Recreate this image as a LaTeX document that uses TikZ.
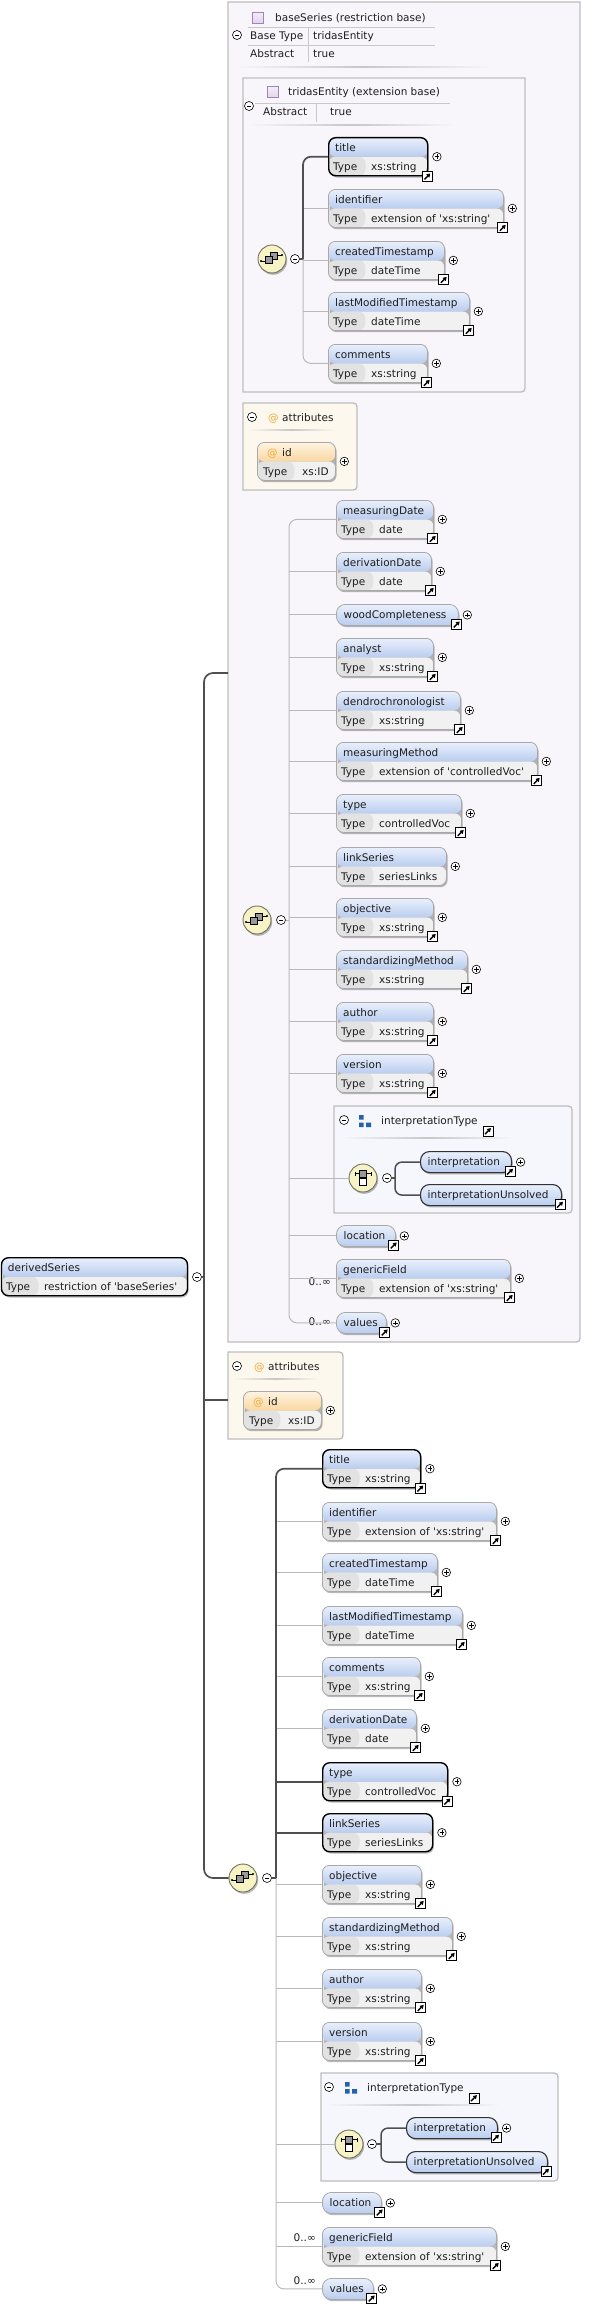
\documentclass[tikz,border=0pt]{standalone}
\usepackage{fontspec}
\setmainfont{DejaVu Sans}
\usetikzlibrary{shadows,arrows.meta}
\definecolor{hdtop}{HTML}{E9F0FC}
\definecolor{hdbot}{HTML}{BACDEF}
\definecolor{rowg}{HTML}{F1F1F1}
\definecolor{cellg}{HTML}{E2E2E2}
\definecolor{optb}{HTML}{A9A9A9}
\definecolor{idtop}{HTML}{FEF4E2}
\definecolor{idbot}{HTML}{FAD7A0}
\definecolor{lav}{HTML}{F9F6FB}
\definecolor{cream}{HTML}{FDF8EE}
\definecolor{pblue}{HTML}{F5F7FC}
\definecolor{contb}{HTML}{BEBEBE}
\definecolor{thinl}{HTML}{B9B9B9}
\definecolor{thickl}{HTML}{4F4F4F}
\definecolor{txt}{HTML}{1E1E1E}
\definecolor{atc}{HTML}{F2A93B}
\definecolor{icf}{HTML}{F8F3C4}
\definecolor{icb}{HTML}{707060}
\definecolor{bsq}{HTML}{2463A8}
\definecolor{purf}{HTML}{E2D4EE}
\definecolor{purb}{HTML}{A184B8}
\definecolor{hl}{HTML}{C8C8C8}
\newcommand\q{\textquotesingle}
\newcommand\hdrpp[2]{%
 \fill[rowg] (path picture bounding box.west) rectangle (path picture bounding box.south east);
 \fill[cellg] (path picture bounding box.west) rectangle ([xshift=37pt]path picture bounding box.south west);
 \shade[top color=#1, bottom color=#2] (path picture bounding box.north west) rectangle (path picture bounding box.east);}
\tikzset{
 ef/.style={font=\fontsize{10.5}{12}\selectfont, text=txt, inner sep=0pt},
 lbl/.style={ef, anchor=base west},
 shd/.style={drop shadow={shadow xshift=1.2pt, shadow yshift=-1.8pt, opacity=.28, fill=black}},
 elbox/.style={rectangle, rounded corners=7pt, inner sep=0pt, minimum height=38pt, draw=optb, line width=.8pt, shd, path picture={\hdrpp{hdtop}{hdbot}}},
 idbox/.style={elbox, path picture={\hdrpp{idtop}{idbot}}},
 req/.style={draw=black, line width=1.4pt},
 reqp/.style={draw=black!80, line width=1.1pt},
 pill/.style={rectangle, rounded corners=9pt, inner sep=0pt, minimum height=21pt, draw=optb, line width=.8pt, top color=hdtop, bottom color=hdbot, shd},
 plusc/.style={circle, draw=black, fill=white, line width=.6pt, minimum size=8.5pt, inner sep=0pt,
   path picture={\draw[line width=.6pt] ([xshift=-2.3pt]path picture bounding box.center) -- ([xshift=2.3pt]path picture bounding box.center) ([yshift=-2.3pt]path picture bounding box.center) -- ([yshift=2.3pt]path picture bounding box.center);}},
 minc/.style={circle, draw=black, fill=white, line width=.6pt, minimum size=9pt, inner sep=0pt,
   path picture={\draw[line width=.6pt] ([xshift=-2.4pt]path picture bounding box.center) -- ([xshift=2.4pt]path picture bounding box.center);}},
 arrbox/.style={rectangle, draw=black, fill=white, line width=.8pt, minimum size=10pt, inner sep=0pt,
   path picture={\draw[line width=1.4pt, -{Triangle[length=3.6pt,width=4.2pt]}] ([shift={(-3pt,-3pt)}]path picture bounding box.center) -- ([shift={(2.9pt,2.9pt)}]path picture bounding box.center);}},
 seqic/.style={circle, minimum size=28pt, inner sep=0pt, draw=icb, line width=.9pt, fill=icf, shd},
 basei/.style={rectangle, minimum size=11pt, inner sep=0pt, draw=purb, line width=.7pt, top color=purf!40, bottom color=purf},
 bigc/.style={fill=lav, draw=contb, line width=1.3pt},
 attrc/.style={fill=cream, draw=contb, line width=1.3pt},
 interc/.style={fill=pblue, draw=contb, line width=1.3pt},
 thinc/.style={draw=thinl, line width=1pt},
 thickc/.style={draw=thickl, line width=1.7pt},
 hline/.style={draw=hl, line width=.8pt},
}
\newcommand\El[8]{%
  \node[elbox,#7,minimum width=#4pt,anchor=north west] (#1) at (#2,#3) {};
  \node[lbl] (#1-n) at ([xshift=7pt,yshift=-14pt]#1.north west) {#5};
  \node[lbl] (#1-k) at ([xshift=5pt,yshift=-33pt]#1.north west) {Type};
  \node[lbl] (#1-v) at ([xshift=43pt,yshift=-33pt]#1.north west) {#6};
  \node[plusc] (#1-p) at ([xshift=8.5pt]#1.east) {};
  \ifnum#8=1\relax \node[arrbox] (#1-a) at ([xshift=-1pt]#1.south east) {};\fi}
\newcommand\Pl[7]{%
  \node[pill,#6,minimum width=#4pt,anchor=north west] (#1) at (#2,#3) {};
  \node[lbl] (#1-n) at ([xshift=7.5pt,yshift=-14.5pt]#1.north west) {#5};
  \node[arrbox] (#1-a) at ([xshift=-2pt,yshift=1.5pt]#1.south east) {};
  \ifnum#7=1\relax \node[plusc] (#1-p) at ([xshift=8.5pt]#1.east) {};\fi}
\newcommand\Idb[4]{%
  \node[idbox,minimum width=#4pt,anchor=north west] (#1) at (#2,#3) {};
  \node[lbl,text=atc] (#1-at) at ([xshift=10pt,yshift=-14pt]#1.north west) {@};
  \node[lbl] (#1-n) at ([xshift=25pt,yshift=-14pt]#1.north west) {id};
  \node[lbl] (#1-k) at ([xshift=6pt,yshift=-33pt]#1.north west) {Type};
  \node[lbl] (#1-v) at ([xshift=45pt,yshift=-33pt]#1.north west) {xs:ID};
  \node[plusc] (#1-p) at ([xshift=8.5pt]#1.east) {};}
\newcommand\ContA[5]{\filldraw[#1] (#2,#3) -- (#4,#3) -- (#4,#5-8) .. controls (#4,#5) .. (#4-8,#5) -- (#2,#5) -- cycle;}
\newcommand\ContB[5]{\filldraw[#1] (#2,#3) -- (#4-8,#3) .. controls (#4,#3) .. (#4,#3+8) -- (#4,#5-8) .. controls (#4,#5) .. (#4-8,#5) -- (#2,#5) -- cycle;}
\newcommand\Fade[4]{\shade[left color=#4,right color=#4,middle color=black!22] (#1,#3-0.8) rectangle (#2,#3+0.8);}
\newcommand\SeqSym[1]{\begin{scope}[shift={(#1.center)},x=1pt,y=1pt,line width=.6pt]
 \draw (-11,-2) -- (-7,-2) (5,4) -- (10,4);
 \fill (-11,-2) circle (1.1pt) (10,4) circle (1.1pt);
 \filldraw[fill=black!40] (-2,-0.5) rectangle (5,7);
 \filldraw[fill=black!40] (-7,-4.5) rectangle (0,3);
\end{scope}}
\newcommand\ChoSym[1]{\begin{scope}[shift={(#1.center)},x=1pt,y=1pt,line width=.6pt]
 \draw (-8,4.3) -- (8,4.3) (-8,2.3) -- (-8,6.3) (8,2.3) -- (8,6.3);
 \filldraw[fill=black!40] (-3.3,1) rectangle (3.3,7.6);
 \filldraw[fill=white] (-3.3,-7.3) rectangle (3.3,-0.7);
\end{scope}}
\begin{document}
\begin{tikzpicture}[x=1pt,y=-1pt]
\useasboundingbox (0,0) rectangle (598,2304);
\fill[white] (0,0) rectangle (598,2304);
% ===== big restriction box =====
\ContA{bigc}{228}{2}{580}{1342}
\node[basei] (bsi) at (257.5,17.5) {};
\node[lbl] (bst) at (275,21.5) {baseSeries (restriction base)};
\draw[hline] (248,27) -- (435,27);
\draw[hline] (248,45) -- (435,45);
\draw[hline] (308,27) -- (308,62);
\node[minc] (bsm) at (237,35) {};
\node[lbl] (bsk1) at (250,40) {Base Type};
\node[lbl] (bsv1) at (313,40) {tridasEntity};
\node[lbl] (bsk2) at (250,58) {Abstract};
\node[lbl] (bsv2) at (313,58) {true};
\Fade{233}{493}{67}{lav}
% ===== tridasEntity box =====
\ContA{bigc}{243}{78}{525}{392}
\node[basei] (tei) at (273,92) {};
\node[lbl] (tet) at (288,96) {tridasEntity (extension base)};
\draw[hline] (255,103) -- (450,103);
\draw[hline] (316,103) -- (316,122);
\node[minc] (tem) at (249,106) {};
\node[lbl] (tek) at (263,116) {Abstract};
\node[lbl] (tev) at (330,116) {true};
\Fade{248}{455}{125}{lav}
\node[seqic] (s1) at (272,259) {};
\SeqSym{s1}
\node[minc] (s1m) at (295,259) {};
\coordinate (b1) at (303,259);
\El{t1}{328}{137}{99}{title}{xs:string}{req}{1}
\El{i1}{328}{189}{175}{identifier}{extension of \q xs:string\q}{}{1}
\El{c1}{328}{241}{116}{createdTimestamp}{dateTime}{}{1}
\El{l1}{328}{292}{141}{lastModifiedTimestamp}{dateTime}{}{1}
\El{m1}{328}{344}{99}{comments}{xs:string}{}{1}
\draw[thinc, rounded corners=8pt] (b1) -- (b1 |- m1.west) -- (m1.west);
\foreach \n in {i1,c1,l1} \draw[thinc] (b1 |- \n.west) -- (\n.west);
\draw[thickc] (s1m.east) -- (b1);
\draw[thickc, rounded corners=8pt] (b1) -- (b1 |- t1.west) -- (t1.west);
% ===== attributes 1 =====
\ContB{attrc}{243}{403}{357}{490}
\node[minc] (a1m) at (252,417) {};
\node[lbl,text=atc] (a1at) at (268,421) {@};
\node[lbl] (a1t) at (282,421) {attributes};
\Fade{248}{335}{430}{cream}
\Idb{id1}{257}{442}{78}
% ===== interpretationType 1 =====
\ContB{interc}{334}{1106}{572}{1213}
\node[minc] (it1m) at (344,1120) {};
\fill[bsq] (359,1115) rectangle (363.5,1119.5) (359,1122.5) rectangle (363.5,1127) (366,1122.5) rectangle (371,1127);
\node[lbl] (it1t) at (381,1124) {interpretationType};
\node[arrbox] (it1a) at (488,1131) {};
\Fade{340}{515}{1138}{pblue}
\node[seqic] (ch1) at (363,1178) {};
\ChoSym{ch1}
\node[minc] (ch1m) at (387,1178) {};
\coordinate (cb1) at (395,1178);
\Pl{ip1}{420}{1151}{91}{interpretation}{reqp}{1}
\Pl{iu1}{420}{1184}{141}{interpretationUnsolved}{reqp}{0}
\draw[thickc, line width=1.5pt] (ch1m.east) -- (cb1);
\draw[thickc, line width=1.5pt, rounded corners=7pt] (ip1.west) -- (cb1 |- ip1.west) -- (cb1 |- iu1.west) -- (iu1.west);
% ===== sequence 2 =====
\node[seqic] (s2) at (257,920) {};
\SeqSym{s2}
\node[minc] (s2m) at (281,920) {};
\coordinate (b2) at (289,920);
\El{md}{336}{500}{97}{measuringDate}{date}{}{1}
\El{dd}{336}{552}{95}{derivationDate}{date}{}{1}
\Pl{wc}{336}{604}{122}{woodCompleteness}{}{1}
\El{an}{336}{638}{97}{analyst}{xs:string}{}{1}
\El{dc}{336}{691}{124}{dendrochronologist}{xs:string}{}{1}
\El{mm}{336}{742}{201}{measuringMethod}{extension of \q controlledVoc\q}{}{1}
\El{ty}{336}{794}{125}{type}{controlledVoc}{}{1}
\El{ls}{336}{847}{110}{linkSeries}{seriesLinks}{}{0}
\El{ob}{336}{898}{97}{objective}{xs:string}{}{1}
\El{sm}{336}{950}{131}{standardizingMethod}{xs:string}{}{1}
\El{au}{336}{1002}{97}{author}{xs:string}{}{1}
\El{ve}{336}{1054}{97}{version}{xs:string}{}{1}
\Pl{lo}{336}{1225}{59}{location}{}{1}
\El{gf}{336}{1259}{174}{genericField}{extension of \q xs:string\q}{}{1}
\Pl{va}{336}{1312}{50}{values}{}{1}
\node[ef,anchor=east] (gfm) at (331,1282) {0..∞};
\node[ef,anchor=east] (vam) at (331,1322) {0..∞};
\draw[thinc] (s2m.east) -- (b2);
\draw[thinc, rounded corners=8pt] (md.west) -- (b2 |- md.west) -- (b2 |- va.west) -- (va.west);
\foreach \n in {dd,wc,an,dc,mm,ty,ls,ob,sm,au,ve,lo,gf} \draw[thinc] (b2 |- \n.west) -- (\n.west);
\draw[thinc] (b2 |- ch1) -- (ch1.west);
% ===== derivedSeries =====
\node[elbox,req,minimum width=186pt,anchor=north west] (ds) at (0.8,1257) {};
\node[lbl] (ds-n) at ([xshift=7pt,yshift=-14pt]ds.north west) {derivedSeries};
\node[lbl] (ds-k) at ([xshift=5pt,yshift=-33pt]ds.north west) {Type};
\node[lbl] (ds-v) at ([xshift=43pt,yshift=-33pt]ds.north west) {restriction of \q baseSeries\q};
\node[minc] (dsm) at (197,1277) {};
\coordinate (mb) at (204,1277);
\coordinate (bbin) at (228,673);
% ===== attributes 2 =====
\ContB{attrc}{228}{1352}{343}{1439}
\coordinate (at2in) at (228,1400);
\node[minc] (a2m) at (237,1366) {};
\node[lbl,text=atc] (a2at) at (254,1370) {@};
\node[lbl] (a2t) at (268,1370) {attributes};
\Fade{233}{318}{1379}{cream}
\Idb{id2}{243}{1391}{78}
% ===== interpretationType 2 =====
\ContB{interc}{321}{2073}{558}{2181}
\node[minc] (it2m) at (329,2087) {};
\fill[bsq] (345,2082) rectangle (349.5,2086.5) (345,2089) rectangle (349.5,2093.5) (352,2089) rectangle (357,2093.5);
\node[lbl] (it2t) at (367,2091) {interpretationType};
\node[arrbox] (it2a) at (474,2098) {};
\Fade{326}{500}{2105}{pblue}
\node[seqic] (ch2) at (349,2144) {};
\ChoSym{ch2}
\node[minc] (ch2m) at (372,2144) {};
\coordinate (cb2) at (381,2144);
\Pl{ip2}{406}{2117}{91}{interpretation}{reqp}{1}
\Pl{iu2}{406}{2151}{141}{interpretationUnsolved}{reqp}{0}
\draw[thickc, line width=1.5pt] (ch2m.east) -- (cb2);
\draw[thickc, line width=1.5pt, rounded corners=7pt] (ip2.west) -- (cb2 |- ip2.west) -- (cb2 |- iu2.west) -- (iu2.west);
% ===== sequence 3 =====
\node[seqic] (s3) at (243,1878) {};
\SeqSym{s3}
\node[minc] (s3m) at (267,1878) {};
\coordinate (b3) at (276,1878);
\El{T3}{322}{1449}{98}{title}{xs:string}{req}{1}
\El{I3}{322}{1502}{174}{identifier}{extension of \q xs:string\q}{}{1}
\El{C3}{322}{1553}{115}{createdTimestamp}{dateTime}{}{1}
\El{L3}{322}{1606}{140}{lastModifiedTimestamp}{dateTime}{}{1}
\El{M3}{322}{1657}{98}{comments}{xs:string}{}{1}
\El{D3}{322}{1709}{94}{derivationDate}{date}{}{1}
\El{Y3}{322}{1762}{125}{type}{controlledVoc}{req}{1}
\El{K3}{322}{1813}{110}{linkSeries}{seriesLinks}{req}{0}
\El{O3}{322}{1865}{99}{objective}{xs:string}{}{1}
\El{S3}{322}{1917}{130}{standardizingMethod}{xs:string}{}{1}
\El{A3}{322}{1969}{99}{author}{xs:string}{}{1}
\El{V3}{322}{2022}{99}{version}{xs:string}{}{1}
\Pl{LO3}{322}{2192}{59}{location}{}{1}
\El{G3}{322}{2227}{174}{genericField}{extension of \q xs:string\q}{}{1}
\Pl{VA3}{322}{2278}{51}{values}{}{1}
\node[ef,anchor=east] (G3m) at (316,2238) {0..∞};
\node[ef,anchor=east] (VA3m) at (316,2281) {0..∞};
\draw[thinc, rounded corners=8pt] (b3) -- (b3 |- VA3.west) -- (VA3.west);
\foreach \n in {I3,C3,L3,M3,D3,O3,S3,A3,V3,LO3,G3} \draw[thinc] (b3 |- \n.west) -- (\n.west);
\draw[thinc] (b3 |- ch2) -- (ch2.west);
\draw[thickc] (s3m.east) -- (b3);
\draw[thickc, rounded corners=8pt] (b3) -- (b3 |- T3.west) -- (T3.west);
\foreach \n in {Y3,K3} \draw[thickc] (b3 |- \n.west) -- (\n.west);
% ===== main connector =====
\draw[thickc] (dsm.east) -- (mb);
\draw[thickc, rounded corners=9pt] (bbin) -- (mb |- bbin) -- (mb |- s3) -- (s3.west);
\draw[thickc] (mb |- at2in) -- (at2in);
\end{tikzpicture}
\end{document}
